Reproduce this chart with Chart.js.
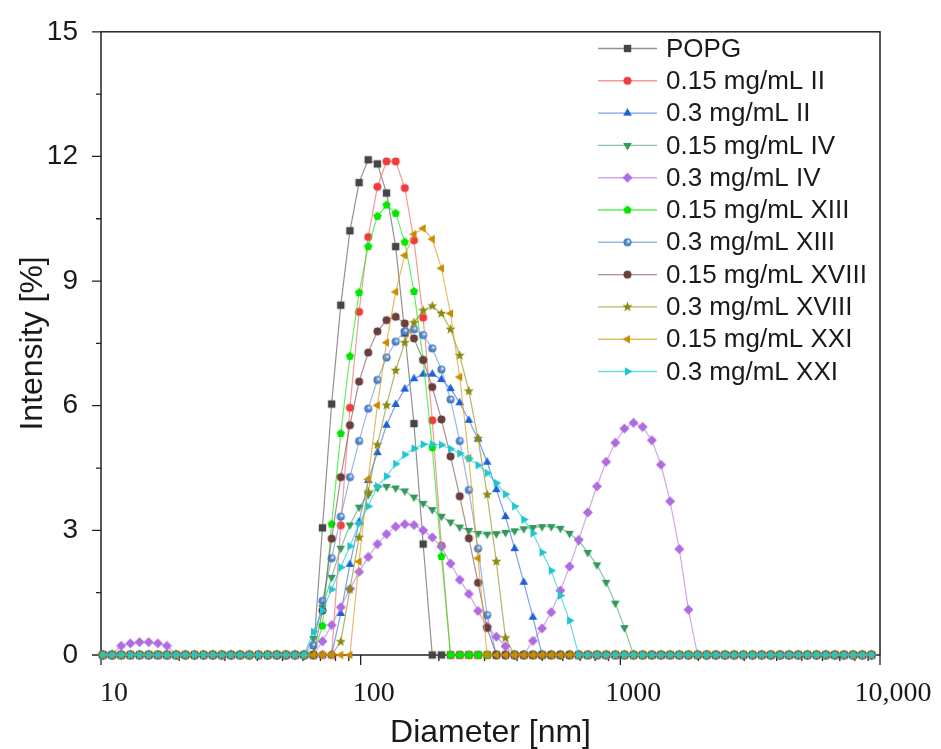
<!DOCTYPE html>
<html lang="en">
<head>
    <meta charset="UTF-8">
    <title>DLS size distribution</title>
    <style>
        body { margin: 0; background: #fff; }
        #chart { display: block; }
    </style>
</head>
<body>
    <canvas id="chart" width="941" height="749"></canvas>
    <script src="https://cdn.jsdelivr.net/npm/chart.js"></script>
    <script>
        // size classes (nm), log spaced
        const diameters = [
            10.17, 11.03, 11.96, 12.97, 14.07, 15.26, 16.55, 17.95, 19.47, 21.11,
            22.89, 24.83, 26.93, 29.20, 31.67, 34.35, 37.25, 40.40, 43.81, 47.52,
            51.52, 55.88, 60.60, 65.72, 71.27, 77.30, 83.83, 90.91, 98.60, 106.9,
            116.0, 125.8, 136.4, 147.9, 160.4, 174.0, 188.7, 204.6, 221.9, 240.7,
            261.0, 283.1, 307.0, 333.0, 361.1, 391.6, 424.7, 460.6, 499.5, 541.8,
            587.5, 637.2, 691.1, 749.4, 812.8, 881.5, 956.0, 1037, 1124, 1219,
            1322, 1434, 1555, 1687, 1829, 1984, 2151, 2333, 2531, 2744,
            2976, 3228, 3501, 3797, 4118, 4466, 4843, 5252, 5696, 6178,
            6699, 7265, 7880, 8545, 9268
        ];

        const popg = [
            0,0,0,0,0,0,0,0,0,0, 0,0,0,0,0,0,0,0,0,0, 0,0,0,0,
            3.06, 6.04, 8.42, 10.21, 11.37, 11.92, 11.82, 11.12, 9.83, 7.75, 5.57, 2.67,
            0,0,0,0,0,0,0,0,0,0, 0,0,0,0,0,0,0,0,0,0, 0,0,0,0,0,0,0,0,0,0, 0,0,0,0,0,0,0,0,0,0, 0,0,0,0,0,0,0,0,0
        ];
        const ii015 = [
            0,0,0,0,0,0,0,0,0,0, 0,0,0,0,0,0,0,0,0,0, 0,0,0,0,0,0,
            3.12, 5.95, 8.26, 10.06, 11.27, 11.88, 11.88, 11.24, 9.98, 8.12, 5.65, 2.63,
            0,0,0,0,0,0,0,0,0,0, 0,0,0,0,0,0,0,0,0,0, 0,0,0,0,0,0,0,0,0,0, 0,0,0,0,0,0,0,0,0,0, 0,0,0,0,0,0,0
        ];
        const ii03 = [
            0,0,0,0,0,0,0,0,0,0, 0,0,0,0,0,0,0,0,0,0, 0,0,0,0,0,0,
            1.0, 2.18, 3.2, 4.2, 4.87, 5.53, 6.03, 6.4, 6.65, 6.76, 6.76, 6.63, 6.41, 6.07, 5.65,
            5.20, 4.64, 3.98, 3.33, 2.56, 1.75, 0.91,
            0,0,0,0,0,0,0,0,0,0, 0,0,0,0,0,0,0,0,0,0, 0,0,0,0,0,0,0,0,0,0, 0,0,0,0,0,0,0
        ];
        const iv015 = [
            0,0,0,0,0,0,0,0,0,0, 0,0,0,0,0,0,0,0,0,0, 0,0,0,
            0.4, 1.15, 1.87, 2.57, 3.13, 3.56, 3.86, 4.03, 4.06, 4.02, 3.95, 3.8, 3.65, 3.50, 3.34,
            3.20, 3.08, 3.0, 2.93, 2.91, 2.92, 2.95, 2.99, 3.04, 3.07, 3.09, 3.09, 3.05, 2.93, 2.75,
            2.47, 2.17, 1.75, 1.25, 0.66,
            0,0,0,0,0,0,0,0,0,0, 0,0,0,0,0,0,0,0,0,0, 0,0,0,0,0,0,0
        ];
        const iv03 = [
            0,0,
            0.22, 0.28, 0.31, 0.31, 0.28, 0.22,
            0,0,0,0,0,0,0,0,0,0, 0,0,0,0,0,0,
            0.33, 0.72, 1.15, 1.59, 2.0, 2.36, 2.67, 2.91, 3.09, 3.15, 3.13, 3.0, 2.83, 2.61, 2.20,
            1.81, 1.47, 1.06, 0.69, 0.44, 0.21,
            0,0,
            0.34, 0.64, 1.03, 1.55, 2.13, 2.77, 3.43, 4.06, 4.65, 5.11, 5.45, 5.59, 5.49, 5.17, 4.58,
            3.70, 2.55, 1.09,
            0,0,0,0,0,0,0,0,0,0, 0,0,0,0,0,0,0,0,0,0
        ];
        const xiii015 = [
            0,0,0,0,0,0,0,0,0,0, 0,0,0,0,0,0,0,0,0,0, 0,0,0,0,
            0.70, 3.15, 5.33, 7.19, 8.72, 9.83, 10.56, 10.83, 10.63, 9.94, 8.75, 7.11, 4.99, 2.37,
            0,0,0,0,0,0,0,0,0,0, 0,0,0,0,0,0,0,0,0,0, 0,0,0,0,0,0,0,0,0,0, 0,0,0,0,0,0,0,0,0,0, 0,0,0,0,0,0,0
        ];
        const xiii03 = [
            0,0,0,0,0,0,0,0,0,0, 0,0,0,0,0,0,0,0,0,0, 0,0,0,
            0.23, 1.30, 2.33, 3.33, 4.28, 5.15, 5.93, 6.62, 7.16, 7.54, 7.79, 7.84, 7.70, 7.38, 6.87,
            6.15, 5.15, 3.97, 2.56, 0.96,
            0,0,0,0,0,0,0,0,0,0, 0,0,0,0,0,0,0,0,0,0, 0,0,0,0,0,0,0,0,0,0, 0,0,0,0,0,0,0,0,0,0, 0,0
        ];
        const xviii015 = [
            0,0,0,0,0,0,0,0,0,0, 0,0,0,0,0,0,0,0,0,0, 0,0,0,0,
            1.07, 2.80, 4.28, 5.53, 6.58, 7.28, 7.79, 8.06, 8.14, 7.98, 7.62, 7.1, 6.45, 5.67, 4.78,
            3.82, 2.81, 1.74, 0.65,
            0,0,0,0,0,0,0,0,0,0, 0,0,0,0,0,0,0,0,0,0, 0,0,0,0,0,0,0,0,0,0, 0,0,0,0,0,0,0,0,0,0, 0,0
        ];
        const xviii03 = [
            0,0,0,0,0,0,0,0,0,0, 0,0,0,0,0,0,0,0,0,0, 0,0,0,0,0,0,
            0.32, 1.58, 2.83, 3.92, 5.06, 6.01, 6.85, 7.52, 8.0, 8.29, 8.40, 8.22, 7.84, 7.21, 6.35,
            5.21, 3.86, 2.25, 0.41,
            0,0,0,0,0,0,0,0,0,0, 0,0,0,0,0,0,0,0,0,0, 0,0,0,0,0,0,0,0,0,0, 0,0,0,0,0,0,0,0,0,0
        ];
        const xxi015 = [
            0,0,0,0,0,0,0,0,0,0, 0,0,0,0,0,0,0,0,0,0, 0,0,0,0,0,0,0,0,
            2.25, 4.23, 6.01, 7.52, 8.74, 9.62, 10.13, 10.27, 10.01, 9.31, 8.22, 6.69, 4.74, 2.33,
            0,0,0,0,0,0,0,0,0,0, 0,0,0,0,0,0,0,0,0,0, 0,0,0,0,0,0,0,0,0,0, 0,0,0,0,0,0,0,0,0,0, 0,0,0
        ];
        const xxi03 = [
            0,0,0,0,0,0,0,0,0,0, 0,0,0,0,0,0,0,0,0,0, 0,0,0,
            0.56, 1.07, 1.58, 2.11, 2.62, 3.16, 3.58, 4.06, 4.30, 4.60, 4.82, 4.97, 5.07, 5.07, 5.06,
            4.96, 4.85, 4.73, 4.57, 4.38, 4.14, 3.87, 3.58, 3.26, 2.93, 2.47, 2.03, 1.43, 0.83,
            0,0,0,0,0,0,0,0,0,0, 0,0,0,0,0,0,0,0,0,0, 0,0,0,0,0,0,0,0,0,0, 0,0,0
        ];

        const seriesNames = [
            'POPG', '0.15 mg/mL II', '0.3 mg/mL II', '0.15 mg/mL IV', '0.3 mg/mL IV',
            '0.15 mg/mL XIII', '0.3 mg/mL XIII', '0.15 mg/mL XVIII', '0.3 mg/mL XVIII',
            '0.15 mg/mL XXI', '0.3 mg/mL XXI'
        ];
        const seriesValues = [popg, ii015, ii03, iv015, iv03, xiii015, xiii03, xviii015, xviii03, xxi015, xxi03];

        const yTicks = [0, 3, 6, 9, 12, 15];
        const xTicks = [10, 100, 1000, 10000];
        const xTickLabels = ['10', '100', '1000', '10,000'];

        // marker look per series: shape, fill, line colour
        const looks = [
            ['square',   '#454545', 'rgba(110,110,110,0.75)'],
            ['circle',   '#f03c3c', 'rgba(245,110,110,0.7)'],
            ['up',       '#1e60d8', 'rgba(50,110,225,0.65)'],
            ['down',     '#33995a', 'rgba(70,165,110,0.65)'],
            ['diamond',  '#b06be0', 'rgba(185,130,230,0.7)'],
            ['pentagon', '#00e800', 'rgba(30,235,30,0.7)'],
            ['sphere',   '#5b8fd2', 'rgba(110,155,215,0.7)'],
            ['circle',   '#6b3d3d', 'rgba(130,85,85,0.65)'],
            ['star',     '#8a8a12', 'rgba(150,150,40,0.7)'],
            ['left',     '#cc8c00', 'rgba(215,160,40,0.7)'],
            ['right',    '#1ec6cf', 'rgba(40,205,215,0.7)']
        ];

        function polygon(g, n, r, start) {
            for (let k = 0; k < n; k++) {
                const a = start + k * 2 * Math.PI / n;
                const px = r * Math.cos(a), py = r * Math.sin(a);
                if (k === 0) g.moveTo(px, py); else g.lineTo(px, py);
            }
            g.closePath();
        }

        function makeMarker(shape, color) {
            const c = document.createElement('canvas');
            c.width = 13; c.height = 13;
            const g = c.getContext('2d');
            g.translate(6.5, 6.5);
            g.fillStyle = color;
            g.beginPath();
            const d = Math.PI / 180;
            if (shape === 'square') g.rect(-3.7, -3.7, 7.4, 7.4);
            else if (shape === 'circle') g.arc(0, 0, 4, 0, Math.PI * 2);
            else if (shape === 'up') polygon(g, 3, 5, -90 * d);
            else if (shape === 'down') polygon(g, 3, 5, 90 * d);
            else if (shape === 'left') polygon(g, 3, 5, 180 * d);
            else if (shape === 'right') polygon(g, 3, 5, 0);
            else if (shape === 'diamond') polygon(g, 4, 5, -90 * d);
            else if (shape === 'pentagon') polygon(g, 5, 4.4, -90 * d);
            else if (shape === 'star') {
                for (let k = 0; k < 10; k++) {
                    const r = k % 2 ? 2.3 : 5.3;
                    const a = -90 * d + k * 36 * d;
                    if (k === 0) g.moveTo(r * Math.cos(a), r * Math.sin(a));
                    else g.lineTo(r * Math.cos(a), r * Math.sin(a));
                }
                g.closePath();
            } else if (shape === 'sphere') {
                const grad = g.createRadialGradient(1.3, -1.3, 0.3, 0, 0, 4.2);
                grad.addColorStop(0, '#f4f8ff');
                grad.addColorStop(0.45, color);
                grad.addColorStop(1, '#3c6fb5');
                g.fillStyle = grad;
                g.arc(0, 0, 4, 0, Math.PI * 2);
            }
            g.fill();
            return c;
        }

        const markers = looks.map(l => makeMarker(l[0], l[1]));

        const datasets = seriesValues.map((vals, i) => ({
            label: seriesNames[i],
            data: diameters.map((x, k) => ({x: x, y: vals[k]})),
            borderColor: looks[i][2],
            backgroundColor: looks[i][1],
            borderWidth: 1.2,
            pointStyle: markers[i],
            pointRadius: 4,
            tension: 0,
            clip: false,
            order: -i
        }));

        // frame, tick marks and legend in Origin style
        const frame = {
            id: 'frame',
            beforeDatasetsDraw(chart) {
                const {ctx, chartArea: a, scales} = chart;
                ctx.save();
                ctx.strokeStyle = '#222';
                ctx.lineWidth = 1.5;
                ctx.strokeRect(a.left, a.top, a.right - a.left, a.bottom - a.top);
                ctx.lineWidth = 1.3;
                ctx.beginPath();
                for (let v = 0; v <= 15; v += 1.5) {
                    const y = scales.y.getPixelForValue(v);
                    const len = (v % 3 === 0) ? 9 : 5;
                    ctx.moveTo(a.left, y); ctx.lineTo(a.left - len, y);
                }
                for (let p = 10; p <= 10000; p *= 10) {
                    for (let k = 1; k <= 9; k++) {
                        const v = k * p;
                        if (v > 10000) break;
                        const x = scales.x.getPixelForValue(v);
                        const len = k === 1 ? 10 : 6;
                        ctx.moveTo(x, a.bottom); ctx.lineTo(x, a.bottom + len);
                    }
                }
                ctx.stroke();
                ctx.restore();
            },
            afterDraw(chart) {
                const ctx = chart.ctx;
                ctx.save();
                ctx.font = '26px "Liberation Sans", Arial, sans-serif';
                ctx.fillStyle = '#1a1a1a';
                ctx.textBaseline = 'middle';
                chart.data.datasets.forEach((ds, i) => {
                    const y = 48.5 + i * 32.3;
                    ctx.strokeStyle = ds.borderColor;
                    ctx.lineWidth = 1.4;
                    ctx.beginPath();
                    ctx.moveTo(598, y); ctx.lineTo(657, y);
                    ctx.stroke();
                    const m = ds.pointStyle;
                    ctx.drawImage(m, 627.5 - m.width / 2, y - m.height / 2);
                    ctx.fillText(ds.label, 666, y + 1);
                });
                ctx.restore();
            }
        };

        new Chart(document.getElementById('chart'), {
            type: 'line',
            data: {datasets: datasets},
            plugins: [frame],
            options: {
                responsive: false,
                animation: false,
                layout: {padding: {left: 0, right: 61, top: 23, bottom: 0}},
                plugins: {legend: {display: false}, tooltip: {enabled: false}},
                scales: {
                    x: {
                        type: 'logarithmic',
                        min: 10,
                        max: 10000,
                        grid: {display: false},
                        border: {display: false},
                        afterFit: s => { s.height = 94; },
                        afterBuildTicks: s => { s.ticks = xTicks.map(v => ({value: v})); },
                        ticks: {
                            autoSkip: false,
                            maxRotation: 0,
                            padding: 14,
                            labelOffset: 13,
                            color: '#1a1a1a',
                            font: {family: '"Liberation Serif", "Times New Roman", serif', size: 28},
                            callback: v => xTickLabels[xTicks.indexOf(v)]
                        },
                        title: {
                            display: true,
                            text: 'Diameter [nm]',
                            color: '#1a1a1a',
                            padding: {top: 0, bottom: 0},
                            font: {family: '"Liberation Sans", Arial, sans-serif', size: 32, lineHeight: 1.0}
                        }
                    },
                    y: {
                        min: 0,
                        max: 15,
                        grid: {display: false},
                        border: {display: false},
                        afterFit: s => { s.width = 101; },
                        afterBuildTicks: s => { s.ticks = yTicks.map(v => ({value: v})); },
                        ticks: {
                            padding: 15,
                            color: '#1a1a1a',
                            font: {family: '"Liberation Sans", Arial, sans-serif', size: 28}
                        },
                        title: {
                            display: true,
                            text: 'Intensity [%]',
                            color: '#1a1a1a',
                            padding: {top: 14, bottom: 0},
                            font: {family: '"Liberation Sans", Arial, sans-serif', size: 32}
                        }
                    }
                }
            }
        });
    </script>
</body>
</html>
